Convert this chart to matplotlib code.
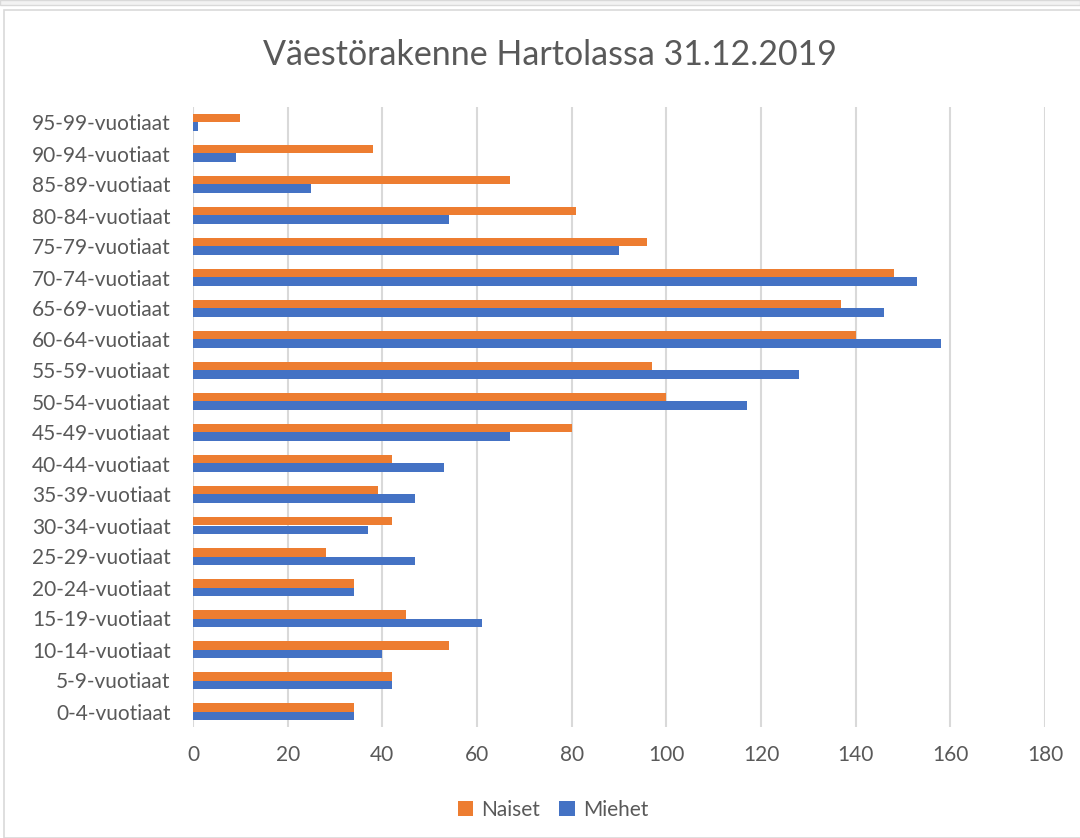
import matplotlib
matplotlib.use("Agg")
import matplotlib.pyplot as plt
from matplotlib.patches import Rectangle
import numpy as np

categories = ["0-4-vuotiaat", "5-9-vuotiaat", "10-14-vuotiaat", "15-19-vuotiaat",
              "20-24-vuotiaat", "25-29-vuotiaat", "30-34-vuotiaat", "35-39-vuotiaat",
              "40-44-vuotiaat", "45-49-vuotiaat", "50-54-vuotiaat", "55-59-vuotiaat",
              "60-64-vuotiaat", "65-69-vuotiaat", "70-74-vuotiaat", "75-79-vuotiaat",
              "80-84-vuotiaat", "85-89-vuotiaat", "90-94-vuotiaat", "95-99-vuotiaat"]
naiset = [34, 42, 54, 45, 34, 28, 42, 39, 42, 80, 100, 97, 140, 137, 148, 96, 81, 67, 38, 10]
miehet = [34, 42, 40, 61, 34, 47, 37, 47, 53, 67, 117, 128, 158, 146, 153, 90, 54, 25, 9, 1]
xticks = [0, 20, 40, 60, 80, 100, 120, 140, 160, 180]

plt.rcParams['font.family'] = ['Lato', 'DejaVu Sans']
txt = "#595959"
orange = "#ED7D31"
blue = "#4472C4"

fig = plt.figure(figsize=(10.8, 8.38), dpi=100)
# frame
fig.patches.append(Rectangle((4/1080, 0), 1.0, 1 - 10/838, transform=fig.transFigure,
                             fill=False, edgecolor="#d9d9d9", linewidth=1.2))
fig.patches.append(Rectangle((0, 1 - 5/838), 1.0, 5/838, transform=fig.transFigure,
                             facecolor="#f2f2f2", edgecolor="#d9d9d9", linewidth=1.0))

ax = fig.add_axes([193/1080, 1 - 727/838, (1045 - 193)/1080, (727 - 107)/838])
y = np.arange(len(categories))
h = 0.26
ax.barh(y + h/2, naiset, height=h, color=orange, label="Naiset", zorder=3)
ax.barh(y - h/2, miehet, height=h, color=blue, label="Miehet", zorder=3)

ax.set_xlim(0, 180)
ax.set_ylim(-0.5, len(categories) - 0.5)
ax.set_xticks(xticks)
ax.set_xticklabels([str(v) for v in xticks], fontsize=15, color=txt)
ax.set_yticks(y)
ax.set_yticklabels(categories, fontsize=15, color=txt)
ax.tick_params(axis='both', length=0)
ax.tick_params(axis='x', pad=13)
ax.tick_params(axis='y', pad=16)
ax.grid(axis='x', color="#d9d9d9", linewidth=1.5, zorder=0)
for s in ax.spines.values():
    s.set_visible(False)

fig.text(550/1080, 1 - 55/838, "Väestörakenne Hartolassa 31.12.2019", ha='center', va='center',
         fontsize=24.5, color=txt)

fig.legend(loc='center', bbox_to_anchor=(553/1080, 1 - 810/838), ncol=2, frameon=False,
           fontsize=15, labelcolor=txt, handlelength=0.75, handleheight=0.75,
           handletextpad=0.4, columnspacing=0.9)

fig.savefig("out.png", dpi=100)
